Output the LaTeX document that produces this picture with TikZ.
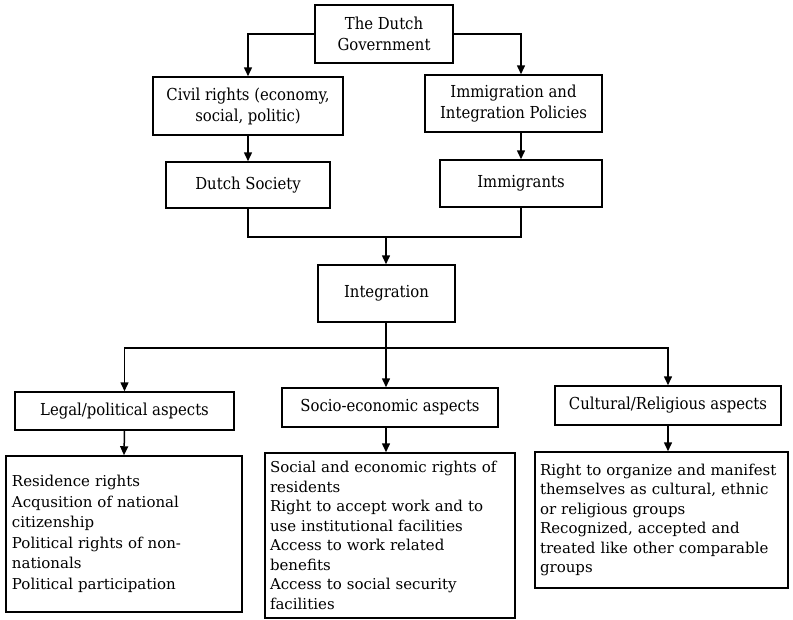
\documentclass[tikz,border=0pt]{standalone}
\usepackage{fontspec}
\setmainfont{DejaVu Serif}
\newfontfamily\condserif{DejaVu Serif Condensed}
\usetikzlibrary{arrows.meta}

\begin{document}
\begin{tikzpicture}[x=1pt,y=-1pt,line width=1.5pt,
  >={Triangle[length=9pt,width=8pt]},
  box/.style={draw,align=center,inner sep=2pt,
    font=\condserif\fontsize{16.5}{21}\selectfont},
  listbox/.style={draw,align=left,inner xsep=6pt,
    font=\fontsize{15}{19.5}\selectfont}]
\useasboundingbox (0,0) rectangle (793,619);

\node[box,minimum width=138,minimum height=58] (gov) at (384,34) {The Dutch\\Government};
\node[box,minimum width=190,minimum height=58] (civil) at (248,106) {Civil rights (economy,\\social, politic)};
\node[box,minimum width=177,minimum height=57] (immig) at (513.5,103.5) {Immigration and\\Integration Policies};
\node[box,minimum width=164,minimum height=46] (society) at (248,185) {Dutch Society};
\node[box,minimum width=162,minimum height=47] (imm) at (521,183.5) {Immigrants};

\node[box,minimum width=137,minimum height=57] (integ) at (386.5,293.5) {Integration};

\node[box,minimum width=219,minimum height=38] (legal) at (124.5,411) {Legal/political aspects};
\node[box,minimum width=216,minimum height=39] (socio) at (390,407.5) {Socio-economic aspects};
\node[box,minimum width=226,minimum height=39] (cult) at (668,405.5) {Cultural/Religious aspects};

\node[listbox,text width=224,minimum height=156] (legallist) at (124,534) {Residence rights\\[2pt]
Acqusition of national\\citizenship\\[2pt]
Political rights of non-\\nationals\\[2pt]
Political participation};
\node[listbox,inner xsep=5pt,text width=240,minimum height=165] (sociolist) at (390,535.5) {Social and economic rights of\\residents\\
Right to accept work and to\\use institutional facilities\\
Access to work related\\benefits\\
Access to social security\\facilities};
\node[listbox,inner xsep=5pt,text width=243,minimum height=136] (cultlist) at (661.5,520) {Right to organize and manifest\\themselves as cultural, ethnic\\or religious groups\\
Recognized, accepted and\\treated like other comparable\\groups};

\draw[->] (gov.west) -| (civil.north);
\draw[->] (gov.east) -| (immig.north -| imm.north);
\draw[->] (civil.south) -- (society.north);
\draw[->] (immig.south -| imm.north) -- (imm.north);

\coordinate (merge) at (386,237);
\draw (society.south) |- (merge) -| (imm.south);
\draw[->] (merge) -- (integ.north -| merge);

\coordinate (split) at (386,348);
\draw (integ.south -| split) -- (split);
\draw[->] (split) -| (legal.north);
\draw[->] (split) -- (split |- socio.north);
\draw[->] (split) -| (cult.north);

\draw[->] (legal.south) -- (legallist.north);
\draw[->] (split |- socio.south) -- (split |- sociolist.north);
\draw[->] (cult.south) -- (cult.south |- cultlist.north);

\end{tikzpicture}
\end{document}
